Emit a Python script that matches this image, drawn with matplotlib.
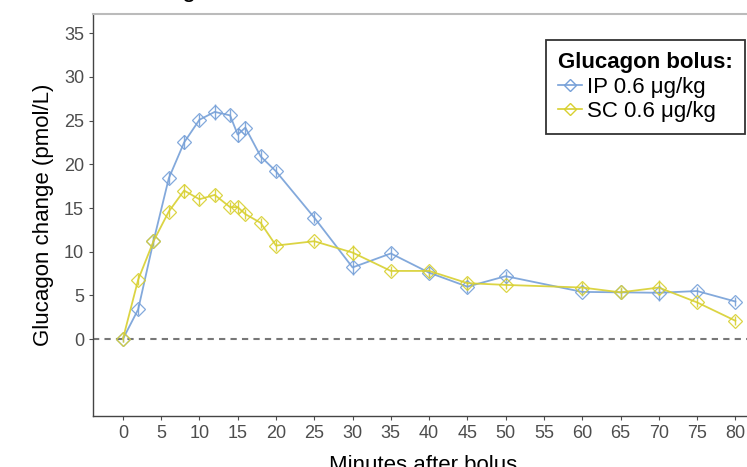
import matplotlib
matplotlib.use("Agg")
import matplotlib.pyplot as plt
from matplotlib.lines import Line2D

plt.rcParams["font.family"] = ["Liberation Sans", "DejaVu Sans"]

# minutes after bolus
minutes = [0, 2, 4, 6, 8, 10, 12, 14, 15, 16, 18, 20, 25, 30, 35, 40, 45, 50, 60, 65, 70, 75, 80]

# glucagon change (pmol/L)
ip_values = [0.0, 3.4, 11.2, 18.4, 22.5, 25.1, 26.0, 25.6, 23.4, 24.2, 20.9, 19.2, 13.9,
             8.2, 9.8, 7.6, 6.0, 7.2, 5.4, 5.35, 5.3, 5.5, 4.3]
sc_values = [0.0, 6.8, 11.2, 14.6, 17.0, 16.0, 16.5, 15.1, 15.1, 14.3, 13.3, 10.7, 11.2,
             9.9, 7.8, 7.8, 6.4, 6.2, 5.9, 5.35, 5.9, 4.2, 2.1]
ip_err = [0.3, 0.6, 0.6, 0.7, 0.8, 0.7, 0.9, 0.7, 0.8, 0.8, 0.7, 0.6, 0.6,
          0.9, 0.7, 0.6, 0.7, 0.6, 0.5, 0.5, 0.9, 0.5, 0.5]
sc_err = [0.3, 0.6, 0.6, 0.6, 0.8, 0.6, 0.7, 0.6, 0.7, 0.6, 0.6, 0.6, 0.5,
          0.9, 0.6, 0.6, 0.7, 0.5, 0.6, 0.6, 0.9, 0.5, 0.5]

x_ticks = list(range(0, 81, 5))
y_ticks = list(range(0, 36, 5))

blue = "#76a0d8"
yellow = "#d8d030"

fig = plt.figure(figsize=(7.47, 4.67), dpi=100)
ax = fig.add_axes([93 / 747, 1 - 416 / 467, 660 / 747, (416 - 14) / 467])

ax.axhline(0, color="#777777", linestyle=(0, (3, 2.5)), linewidth=1.5, zorder=1)

for vals, errs, col in [(ip_values, ip_err, blue), (sc_values, sc_err, yellow)]:
    ax.errorbar(minutes, vals, yerr=errs, color=col, linewidth=1.3, elinewidth=1.0,
                capsize=0, marker="D", markersize=7, markerfacecolor="none",
                markeredgecolor=col, markeredgewidth=0.9, alpha=0.9, zorder=3)

ax.set_xlim(-3.9, 82.3)
ax.set_ylim(-8.8, 37.2)
ax.set_xticks(x_ticks)
ax.set_yticks(y_ticks)
ax.tick_params(axis="both", labelsize=13, labelcolor="#4d4d4d", color="#4d4d4d",
               length=3, width=0.8)

for side in ["left", "bottom"]:
    ax.spines[side].set_color("#444444")
    ax.spines[side].set_linewidth(1.0)
ax.spines["top"].set_color("#bbbbbb")
ax.spines["top"].set_linewidth(1.5)
ax.spines["right"].set_color("#bbbbbb")

ax.set_ylabel("Glucagon change (pmol/L)", fontsize=16, labelpad=7)
ax.set_xlabel("Minutes after bolus", fontsize=16, labelpad=9)
# title mostly cut off at the top edge in the reference
fig.text(118 / 747, 1 + 3 / 467, "Glucagon", fontsize=18, ha="left", va="baseline")

handles = [
    Line2D([0], [0], color=blue, marker="D", markersize=6, markerfacecolor="none", linewidth=1.2),
    Line2D([0], [0], color=yellow, marker="D", markersize=6, markerfacecolor="none", linewidth=1.2),
]
leg = ax.legend(handles, ["IP 0.6 μg/kg", "SC 0.6 μg/kg"], title="Glucagon bolus:",
                loc="upper right", bbox_to_anchor=((745 - 93) / 660, (416 - 40) / 402),
                borderaxespad=0, fontsize=16,
                title_fontproperties={"weight": "bold", "size": 16},
                frameon=True, fancybox=False, edgecolor="black", handlelength=1.1,
                handletextpad=0.2, borderpad=0.55, labelspacing=0.15)
leg.get_frame().set_linewidth(1.3)
leg._legend_box.align = "left"

fig.savefig("out.png", dpi=100)
